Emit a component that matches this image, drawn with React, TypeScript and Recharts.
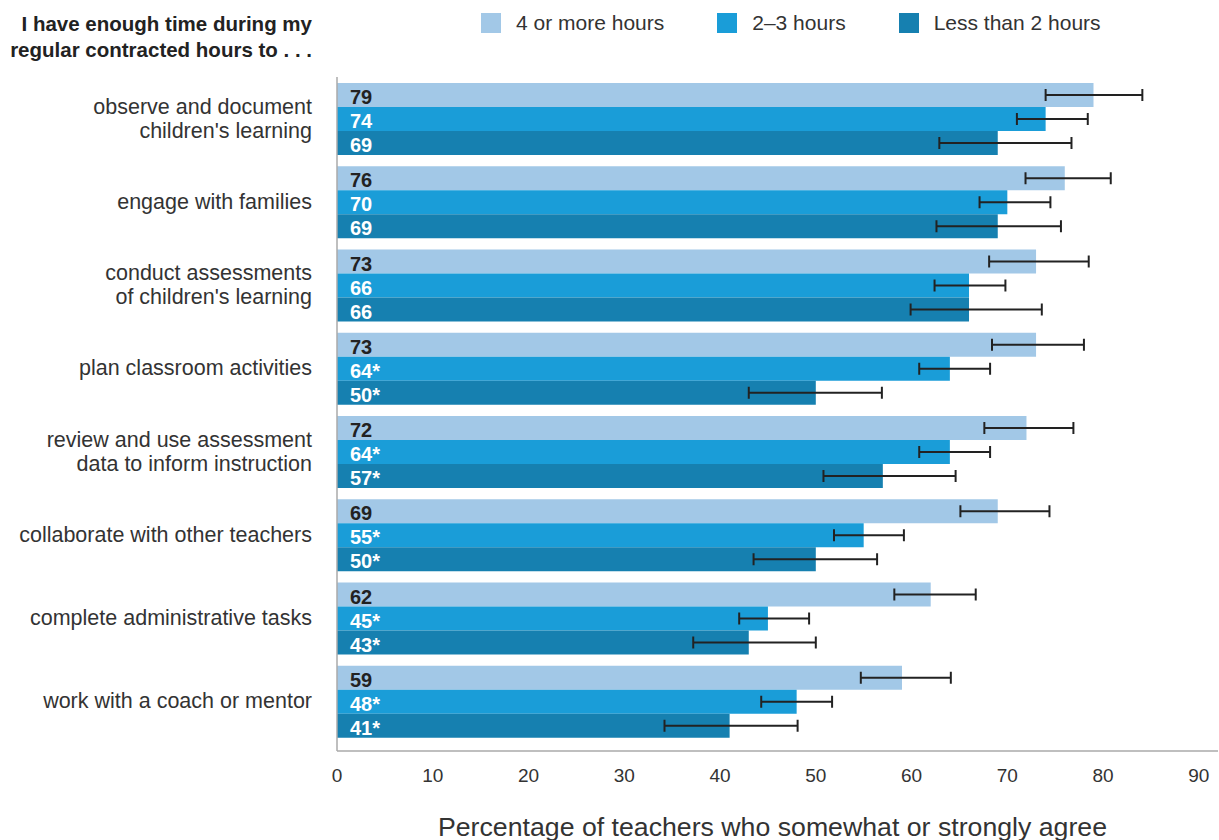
import { BarChart, Bar, XAxis, YAxis, ErrorBar, LabelList } from 'recharts';

// Survey items (multi-line labels split on \n)
const categories = [
  "observe and document\nchildren's learning",
  'engage with families',
  "conduct assessments\nof children's learning",
  'plan classroom activities',
  'review and use assessment\ndata to inform instruction',
  'collaborate with other teachers',
  'complete administrative tasks',
  'work with a coach or mentor',
];

const seriesNames = ['4 or more hours', '2–3 hours', 'Less than 2 hours'];
const seriesColors = ['#a2c8e7', '#1a9dd8', '#1680b0'];
const labelColors = ['#222222', '#ffffff', '#ffffff'];

// Percent agreeing, by planning time
const fourPlus = [79, 76, 73, 73, 72, 69, 62, 59];
const twoThree = [74, 70, 66, 64, 64, 55, 45, 48];
const lessTwo = [69, 69, 66, 50, 57, 50, 43, 41];

// Significant difference from "4 or more hours"
const twoThreeSig = [false, false, false, true, true, true, true, true];
const lessTwoSig = [false, false, false, true, true, true, true, true];

// Confidence interval bounds
const fourPlusLow = [74.0, 71.9, 68.1, 68.4, 67.6, 65.1, 58.2, 54.7];
const fourPlusHigh = [84.1, 80.8, 78.5, 78.0, 76.9, 74.4, 66.7, 64.1];
const twoThreeLow = [71.0, 67.1, 62.4, 60.8, 60.8, 51.9, 42.0, 44.3];
const twoThreeHigh = [78.4, 74.5, 69.8, 68.2, 68.2, 59.2, 49.3, 51.7];
const lessTwoLow = [62.9, 62.6, 59.9, 43.0, 50.8, 43.5, 37.2, 34.2];
const lessTwoHigh = [76.7, 75.6, 73.6, 56.9, 64.6, 56.4, 50.0, 48.1];

const xTicks = [0, 10, 20, 30, 40, 50, 60, 70, 80, 90];

const data = categories.map((name, i) => ({
  name,
  s0: fourPlus[i],
  s1: twoThree[i],
  s2: lessTwo[i],
  l0: String(fourPlus[i]),
  l1: twoThree[i] + (twoThreeSig[i] ? '*' : ''),
  l2: lessTwo[i] + (lessTwoSig[i] ? '*' : ''),
  e0: [fourPlus[i] - fourPlusLow[i], fourPlusHigh[i] - fourPlus[i]],
  e1: [twoThree[i] - twoThreeLow[i], twoThreeHigh[i] - twoThree[i]],
  e2: [lessTwo[i] - lessTwoLow[i], lessTwoHigh[i] - lessTwo[i]],
}));

const FONT = '"Liberation Sans", Arial, Helvetica, sans-serif';

const CategoryTick = (props: any) => {
  const { x, y, payload } = props;
  const lines = String(payload.value).split('\n');
  const lh = 24;
  const y0 = y - ((lines.length - 1) * lh) / 2;
  return (
    <text x={x} y={y0} textAnchor="end" fontSize={21.5} fill="#333" fontFamily={FONT} dominantBaseline="central">
      {lines.map((line, i) => (
        <tspan key={i} x={x} dy={i === 0 ? 0 : lh}>
          {line}
        </tspan>
      ))}
    </text>
  );
};

const makeValueLabel = (color: string) => (props: any) => {
  const { x, y, height, value } = props;
  return (
    <text
      x={Number(x) + 13}
      y={Number(y) + Number(height) / 2 + 2}
      fill={color}
      fontSize={20}
      fontWeight={700}
      fontFamily={FONT}
      dominantBaseline="central"
    >
      {value}
    </text>
  );
};

const App = () => {
  return (
    <div style={{ position: 'absolute', left: 0, top: 0, width: 1219, height: 840, fontFamily: FONT, background: '#fff' }}>
      <div
        style={{
          position: 'absolute',
          right: 1219 - 312,
          top: 11,
          textAlign: 'right',
          fontSize: 20.5,
          fontWeight: 700,
          lineHeight: '26px',
          color: '#222',
          whiteSpace: 'nowrap',
        }}
      >
        I have enough time during my
        <br />
        regular contracted hours to . . .
      </div>

      <div style={{ position: 'absolute', left: 481, top: 13, display: 'flex', alignItems: 'center' }}>
        {seriesNames.map((n, i) => (
          <div key={n} style={{ display: 'flex', alignItems: 'center', marginRight: 53 }}>
            <div style={{ width: 20, height: 20, background: seriesColors[i], marginRight: 15 }} />
            <span style={{ fontSize: 21, color: '#333', lineHeight: '20px' }}>{n}</span>
          </div>
        ))}
      </div>

      <BarChart
        width={1219}
        height={840}
        data={data}
        layout="vertical"
        margin={{ top: 77, right: 1, bottom: 0, left: 0 }}
        barCategoryGap={6}
        barGap={0}
      >
        <XAxis
          type="number"
          domain={[0, 92]}
          ticks={xTicks}
          height={89}
          axisLine={{ stroke: '#aaa', strokeWidth: 1.5 }}
          tickLine={false}
          tickMargin={12}
          tick={{ fontSize: 19, fill: '#333', fontFamily: FONT }}
        />
        <YAxis
          type="category"
          dataKey="name"
          width={337}
          axisLine={{ stroke: '#aaa', strokeWidth: 1.5 }}
          tickLine={false}
          tickSize={0}
          tickMargin={25}
          padding={{ top: 0, bottom: 8 }}
          tick={<CategoryTick />}
          interval={0}
        />
        {['s0', 's1', 's2'].map((key, i) => (
          <Bar key={key} dataKey={key} fill={seriesColors[i]} isAnimationActive={false}>
            <ErrorBar dataKey={`e${i}`} direction="x" width={6} stroke="#222" strokeWidth={2} />
            <LabelList dataKey={`l${i}`} content={makeValueLabel(labelColors[i])} />
          </Bar>
        ))}
      </BarChart>

      <div
        style={{
          position: 'absolute',
          left: 0,
          width: 1545,
          top: 812,
          textAlign: 'center',
          fontSize: 26.7,
          lineHeight: '30px',
          color: '#333',
          whiteSpace: 'nowrap',
        }}
      >
        Percentage of teachers who somewhat or strongly agree
      </div>
    </div>
  );
};

export default App;
